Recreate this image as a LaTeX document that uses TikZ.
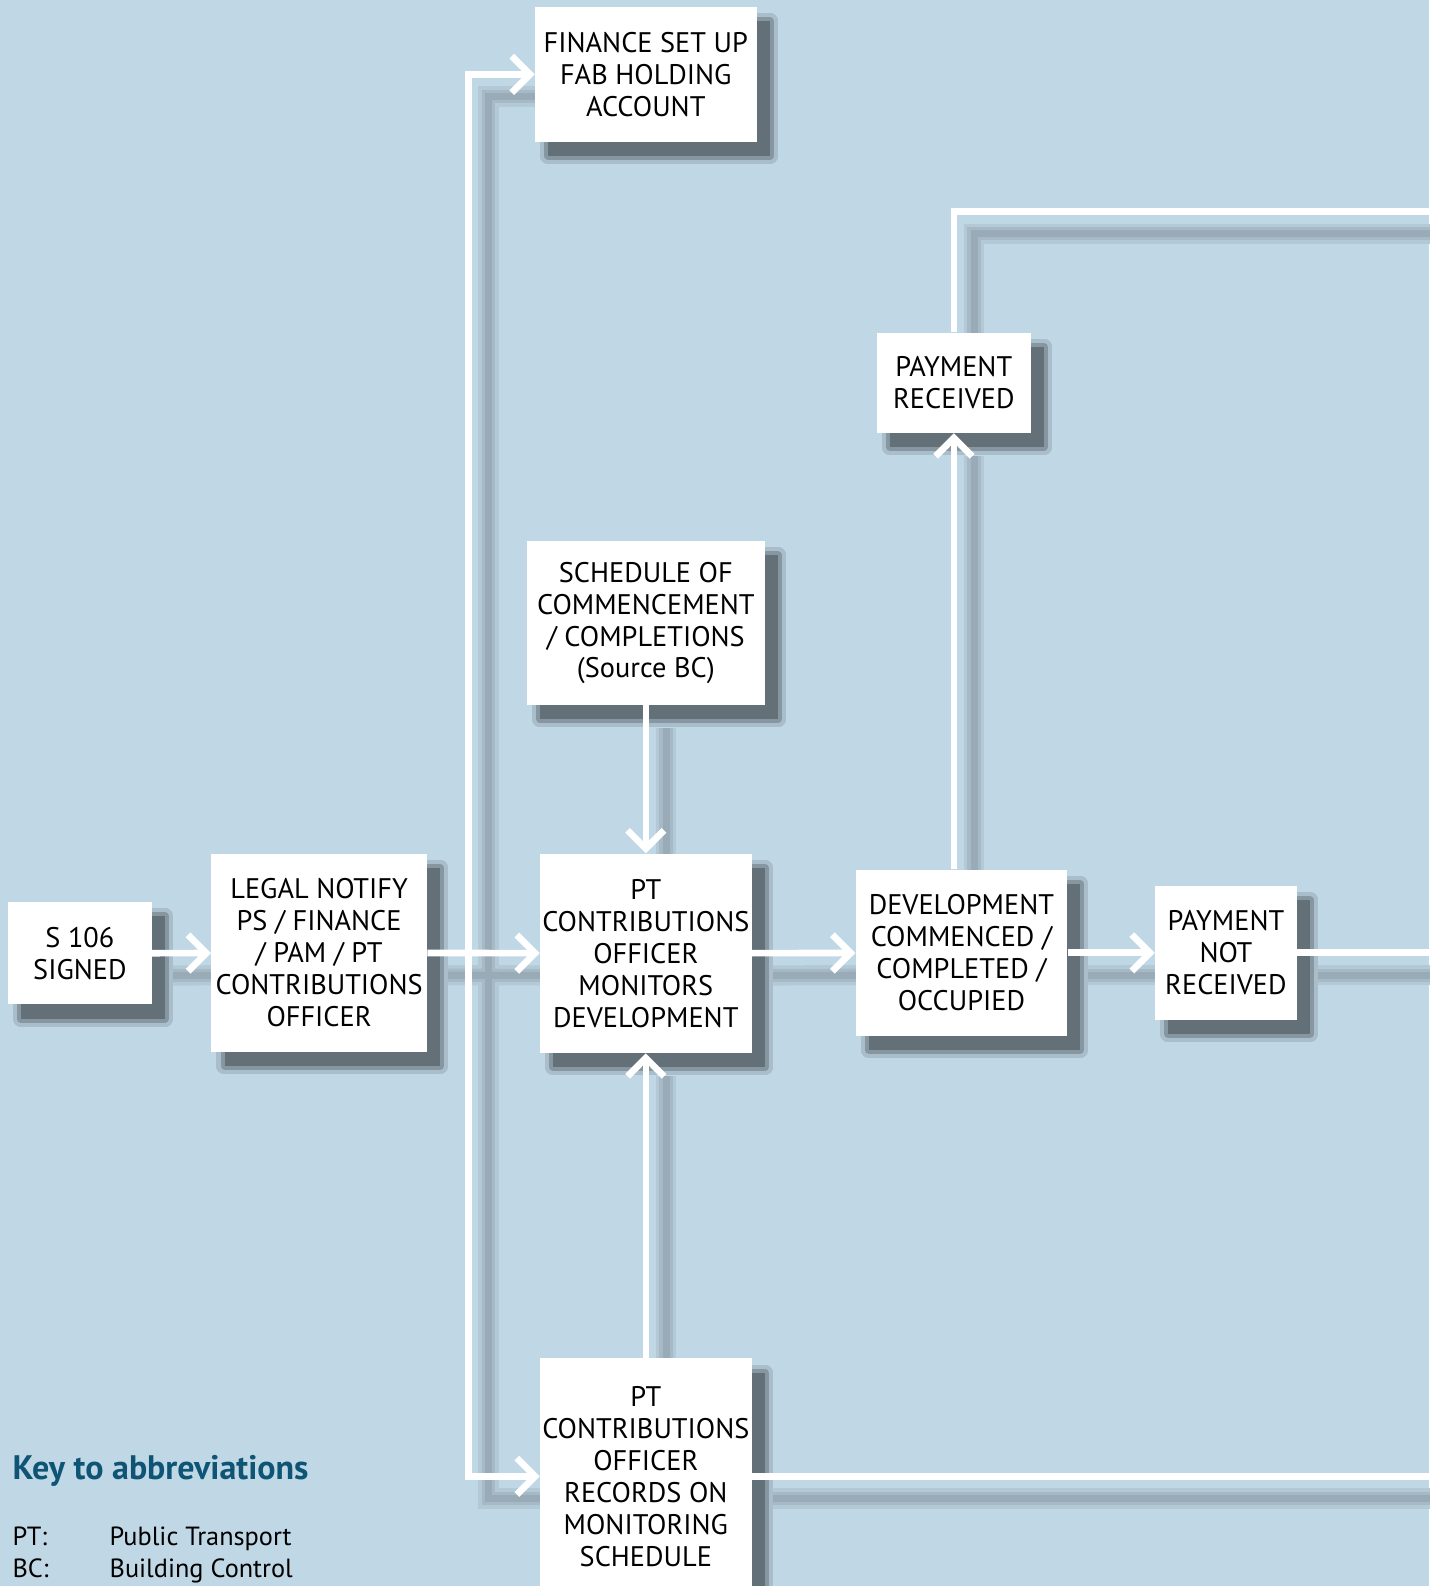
\documentclass[tikz,border=0pt]{standalone}
\usepackage{fontspec}
\setmainfont{PT Sans}
\usetikzlibrary{arrows.meta}
\definecolor{paneblue}{RGB}{192,216,230}
\definecolor{keyblue}{RGB}{14,84,116}

\begin{document}
\begin{tikzpicture}[x=0.5pt,y=-0.5pt,
  box node/.style={rectangle,fill=white,align=center,inner sep=0pt,
    font=\fontsize{14}{15.8}\selectfont,
    preaction={draw=paneblue!88!black,fill=paneblue!88!black,line width=8pt,line join=round,
      transform canvas={shift={(6.5pt,-7pt)}}},
    preaction={draw=paneblue!70!black,fill=paneblue!70!black,line width=4pt,line join=round,
      transform canvas={shift={(6.5pt,-7pt)}}},
    preaction={fill=paneblue!52!black,transform canvas={shift={(6.5pt,-7pt)}}}},
  link/.style={draw=white,line width=3.3pt},
  headed/.style={-{Straight Barb[length=9pt,width=18pt]}},
  key node/.style={anchor=base west,inner sep=0pt,font=\fontsize{13}{15}\selectfont}]
  \useasboundingbox[fill=paneblue] (0,0) rectangle (1413,1568);

  \newcommand{\placeboxes}{%
    \node[box node,minimum width=109.5pt,minimum height=66.5pt] (finance) at (638.5,73.5) {FINANCE SET UP\\FAB HOLDING\\ACCOUNT};
    \node[box node,minimum width=76pt,minimum height=49.5pt] (paid) at (943,378.5) {PAYMENT\\RECEIVED};
    \node[box node,minimum width=117.5pt,minimum height=81pt] (schedule) at (638.5,616) {SCHEDULE OF\\COMMENCEMENT\\/ COMPLETIONS\\(Source BC)};
    \node[box node,minimum width=71pt,minimum height=50.5pt] (s106) at (79,942.5) {S 106\\SIGNED};
    \node[box node,minimum width=106.5pt,minimum height=98pt] (legal) at (315.5,942) {LEGAL NOTIFY\\PS / FINANCE\\/ PAM / PT\\CONTRIBUTIONS\\OFFICER};
    \node[box node,minimum width=104.5pt,minimum height=98.5pt] (monitor) at (638.5,942.5) {PT\\CONTRIBUTIONS\\OFFICER\\MONITORS\\DEVELOPMENT};
    \node[box node,minimum width=104.5pt,minimum height=82pt] (develop) at (950.5,942) {DEVELOPMENT\\COMMENCED /\\COMPLETED /\\OCCUPIED};
    \node[box node,minimum width=70pt,minimum height=66pt] (notpaid) at (1212,942) {PAYMENT\\NOT\\RECEIVED};
    \node[box node,minimum width=104.5pt,minimum height=116.5pt] (records) at (638.5,1459.5) {PT\\CONTRIBUTIONS\\OFFICER\\RECORDS ON\\MONITORING\\SCHEDULE};
  }
  \newcommand{\drawlinks}{%
    \draw[link,headed] (s106) -- (legal);
    \draw[link,headed] (legal) -- (monitor);
    \draw[link,headed] (split) |- (finance);
    \draw[link,headed] (split) |- (records);
    \draw[link,headed] (schedule) -- (monitor);
    \draw[link,headed] (records) -- (monitor);
    \draw[link,headed] (monitor) -- (develop);
    \draw[link,headed] (develop) -- (notpaid);
    \draw[link,headed] (paid |- develop.north) -- (paid);
    \draw[link] (paid) |- (edgeA);
    \draw[link] (notpaid) -- (edgeB);
    \draw[link] (records) -- (edgeC);
  }

  \placeboxes
  \coordinate (split) at (463,942);
  \coordinate (edgeA) at (1425,209);
  \coordinate (edgeB) at (1425,942);
  \coordinate (edgeC) at (1425,1459.5);

  % soft shadow of the connectors, in three solid bands
  \foreach \w/\k in {10/93,6.5/86,3.5/79} {
    \begin{scope}[transform canvas={shift={(10pt,-11pt)}},
        link/.style={draw=paneblue!\k!black,line width=\w pt},headed/.style={}]
      \drawlinks
    \end{scope}
  }
  % boxes again, over the connector shadows
  \placeboxes
  \drawlinks

  % key
  \node[key node,font=\bfseries\fontsize{16.8}{19}\selectfont,text=keyblue] (keytitle) at (12,1463) {Key to abbreviations};
  \node[key node] (ptkey) at (12,1528) {PT:};
  \node[key node] (ptdef) at (108,1528) {Public Transport};
  \node[key node] (bckey) at (12,1560) {BC:};
  \node[key node] (bcdef) at (108,1560) {Building Control};
\end{tikzpicture}
\end{document}
